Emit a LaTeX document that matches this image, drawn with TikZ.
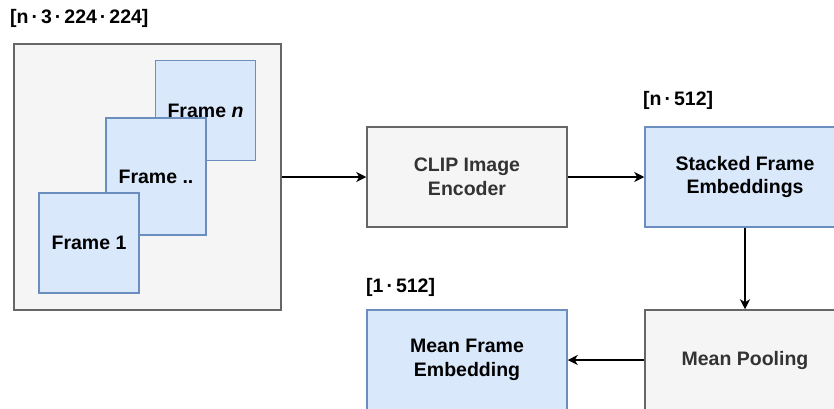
\documentclass[tikz,border=0pt]{standalone}
\usepackage{fontspec}
\setmainfont{Liberation Sans}
\usetikzlibrary{arrows.meta}
\definecolor{grayfill}{HTML}{F5F5F5}
\definecolor{graydraw}{HTML}{666666}
\definecolor{bluefill}{HTML}{DAE8FC}
\definecolor{bluedraw}{HTML}{6C8EBF}
\definecolor{darktext}{HTML}{333333}
% spaced multiplication dot for tensor shapes
\newcommand{\shapedot}{\kern3pt·\kern3pt}
\tikzset{
  txt/.style={font=\fontsize{19.5}{23.5}\selectfont\bfseries, align=center},
  graybox/.style={txt, draw=graydraw, fill=grayfill, line width=1.5pt, text=darktext, inner sep=0pt},
  bluebox/.style={txt, draw=bluedraw, fill=bluefill, line width=1.5pt, text=black, inner sep=0pt},
  dimlabel/.style={txt, anchor=west, inner sep=0pt},
  flow/.style={line width=1.3pt, -{Stealth[length=10pt, width=10pt, inset=3pt]}},
}
\begin{document}
\begin{tikzpicture}[x=1pt, y=-1pt]
  \useasboundingbox (0,0) rectangle (834,408);
  \clip (0,0) rectangle (834,408);

  % input frames container
  \node[graybox, minimum width=267pt, minimum height=266pt] (frames) at (147.5,177) {};
  \node[bluebox, minimum width=100pt, minimum height=100pt] (fn) at (205.5,110.5) {Frame \textit{n}};
  \node[bluebox, minimum width=100pt, minimum height=117pt] (fmid) at (156,176.5) {Frame ..};
  \node[bluebox, minimum width=100pt, minimum height=100pt] (f1) at (89,243) {Frame 1};
  \node[dimlabel] (lin) at (10,18) {[n\shapedot3\shapedot224\shapedot224]};

  % processing chain
  \node[graybox, minimum width=200pt, minimum height=100pt] (clip) at (467,177) {CLIP Image\\Encoder};
  \node[bluebox, minimum width=200pt, minimum height=100pt] (stack) at (745,177) {Stacked Frame\\Embeddings};
  \node[dimlabel] (lstack) at (643,100) {[n\shapedot512]};
  \node[graybox, minimum width=200pt, minimum height=100pt] (pool) at (745,360) {Mean Pooling};
  \node[bluebox, minimum width=200pt, minimum height=100pt] (mean) at (467,360) {Mean Frame\\Embedding};
  \node[dimlabel] (lmean) at (366,287) {[1\shapedot512]};

  % connectors
  \draw[flow] (frames.east) -- (clip.west);
  \draw[flow] (clip.east) -- (stack.west);
  \draw[flow] (stack.south) -- (pool.north);
  \draw[flow] (pool.west) -- (mean.east);
\end{tikzpicture}
\end{document}
